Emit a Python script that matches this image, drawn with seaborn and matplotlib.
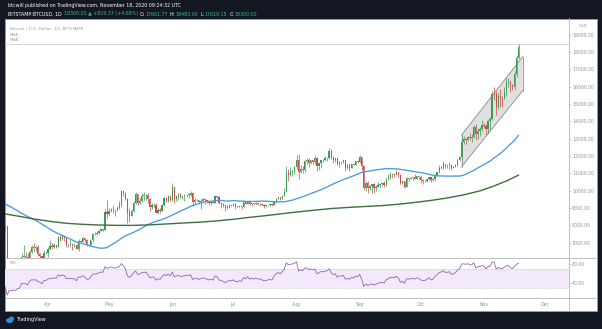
import numpy as np
import pandas as pd
import matplotlib
matplotlib.use("Agg")
import matplotlib.pyplot as plt
import matplotlib.dates as mdates
from matplotlib.patches import Rectangle, Polygon, Ellipse
from matplotlib.lines import Line2D
import seaborn as sns

W, H = 602, 329

# ---------------------------------------------------------------- data
# Daily closes before the first candle (2020-01-20 .. 2020-03-10), for MA50 / RSI warm-up
warmup_closes = [
    8630, 8720, 8650, 8380, 8430, 8330, 8600, 8900, 9390, 9290, 9510, 9350,
    9390, 9340, 9290, 9180, 9620, 9760, 9800, 9900, 10160, 9860, 10270, 10360,
    10240, 10370, 9900, 9930, 9700, 10180, 9600, 9610, 9690, 9670, 9970, 9650,
    9320, 8790, 8790, 8680, 8540,
    8530, 8920, 8760, 8760, 9070, 9150, 8900, 8040, 7930, 7890,
]

# Daily candles 2020-03-11 .. 2020-11-18 (open = previous close)
first_open = 7890
closes = [
    # Mar 11-31
    7940, 4860, 5560, 5170, 5360, 5030, 5330, 5410, 6190, 6200, 6190, 5830, 6480, 6770, 6690, 6760, 6370, 6250, 5880, 6400, 6420,
    # Apr
    6640, 6800, 6740, 6860, 6780, 7330, 7200, 7360, 7290, 6870, 6890, 6920, 6860, 6870, 6630, 7110, 7040, 7260, 7130, 6860, 6860, 7130, 7480, 7510, 7540, 7700, 7780, 7760, 8780, 8630,
    # May
    8830, 8970, 8900, 8880, 9030, 9150, 9990, 9810, 9540, 8730, 8560, 8810, 9310, 9790, 9310, 9380, 9670, 9730, 9780, 9510, 9060, 9170, 9180, 8720, 8900, 8840, 9200, 9570, 9430, 9700, 9450,
    # Jun
    10200, 9520, 9670, 9790, 9620, 9670, 9750, 9780, 9780, 9880, 9320, 9480, 9470, 9340, 9430, 9520, 9460, 9390, 9300, 9360, 9290, 9690, 9630, 9290, 9250, 9160, 9010, 9120, 9190, 9140,
    # Jul
    9230, 9090, 9060, 9130, 9080, 9340, 9250, 9430, 9230, 9290, 9240, 9300, 9240, 9250, 9190, 9130, 9150, 9170, 9210, 9160, 9390, 9540, 9610, 9550, 9710, 9930, 11050, 10920, 11100, 11110, 11350,
    # Aug
    11800, 11070, 11230, 11190, 11740, 11770, 11600, 11760, 11680, 11880, 11410, 11580, 11780, 11770, 11860, 11910, 12280, 11960, 11750, 11870, 11520, 11680, 11650, 11750, 11330, 11460, 11320, 11540, 11480, 11710, 11650,
    # Sep
    11920, 11410, 10170, 10470, 10170, 10280, 10370, 10130, 10230, 10340, 10390, 10440, 10330, 10680, 10790, 10960, 10940, 10930, 11080, 10920, 10420, 10540, 10240, 10740, 10690, 10730, 10770, 10690, 10840, 10780,
    # Oct
    10620, 10570, 10550, 10670, 10790, 10600, 10670, 10920, 11060, 11300, 11380, 11540, 11430, 11430, 11500, 11330, 11370, 11500, 11760, 11920, 12820, 12970, 12930, 13120, 13040, 13070, 13650, 13280, 13460, 13560, 13800,
    # Nov 1-18
    13760, 13560, 14030, 14150, 15590, 15580, 14840, 15480, 15330, 15310, 15700, 16280, 16320, 16070, 15960, 16720, 17662, 18300,
]
highs = [
    7990, 7960, 5970, 5650, 5940, 5360, 5560, 5450, 6420, 6880, 6450, 6400, 6600, 6860, 6970, 6800, 6890, 6380, 6260, 6600, 6520,
    6740, 7180, 7010, 6990, 6880, 7370, 7460, 7400, 7380, 7310, 6950, 7200, 6920, 6990, 6940, 7190, 7150, 7300, 7260, 7200, 6950, 7160, 7560, 7600, 7700, 7720, 7800, 7790, 8960, 9460,
    9000, 9010, 9190, 8950, 9100, 9380, 10040, 9990, 9900, 9580, 9030, 8970, 9400, 9930, 9820, 9590, 9880, 9940, 9830, 9840, 9560, 9270, 9310, 9300, 8980, 9010, 9220, 9620, 9600, 9740, 9700,
    10430, 10230, 9680, 9880, 9850, 9720, 9800, 9800, 9880, 9980, 9950, 9560, 9500, 9490, 9500, 9580, 9550, 9480, 9400, 9400, 9420, 9780, 9690, 9680, 9320, 9280, 9200, 9190, 9230, 9200,
    9300, 9270, 9130, 9190, 9140, 9370, 9350, 9450, 9450, 9310, 9300, 9320, 9340, 9280, 9280, 9210, 9190, 9200, 9230, 9220, 9420, 9550, 9650, 9660, 9730, 10130, 11400, 11230, 11340, 11170, 11450,
    12070, 12090, 11480, 11420, 11790, 11900, 11900, 11800, 11800, 12060, 11950, 11620, 11790, 11850, 11980, 11940, 12470, 12400, 11990, 11900, 11890, 11690, 11700, 11800, 11760, 11530, 11590, 11560, 11580, 11720, 11770,
    12050, 11940, 11460, 10570, 10570, 10350, 10400, 10430, 10350, 10480, 10400, 10470, 10560, 10760, 10940, 11080, 11040, 11040, 11180, 11100, 10990, 10570, 10550, 10790, 10760, 10780, 10790, 10950, 10860, 10850,
    10920, 10660, 10600, 10690, 10800, 10800, 10690, 10960, 11100, 11490, 11440, 11720, 11560, 11550, 11630, 11540, 11400, 11520, 11830, 12030, 13220, 13180, 13030, 13160, 13340, 13250, 13790, 13860, 13640, 13680, 14100,
    13890, 13830, 14070, 14260, 15750, 15970, 15770, 15660, 15850, 15480, 15960, 16480, 16490, 16330, 16150, 16880, 17850, 18483,
]
lows = [
    7590, 4780, 3850, 5080, 5100, 4450, 4960, 5070, 5300, 5680, 5880, 5760, 5720, 6380, 6480, 6530, 6260, 6020, 5860, 5870, 6330,
    6150, 6600, 6620, 6680, 6680, 6770, 7120, 7150, 7110, 6780, 6780, 6820, 6570, 6780, 6620, 6500, 7000, 7030, 7050, 6800, 6790, 6840, 7060, 7440, 7440, 7500, 7660, 7680, 7740, 8430,
    8620, 8770, 8710, 8550, 8810, 8940, 9050, 9720, 9470, 8120, 8200, 8530, 8790, 9260, 9200, 9230, 9330, 9470, 9470, 9300, 8830, 8950, 9080, 8700, 8640, 8700, 8820, 9110, 9340, 9360, 9400,
    9420, 9270, 9400, 9460, 9590, 9540, 9380, 9640, 9580, 9700, 9110, 9250, 9380, 9260, 8920, 9370, 9260, 9300, 9200, 9200, 9280, 9280, 9580, 9230, 9020, 9060, 8830, 8950, 9030, 9090,
    9090, 8950, 9040, 9050, 8970, 9060, 9220, 9240, 9160, 9120, 9190, 9170, 9200, 9130, 9170, 9010, 9080, 9130, 9120, 9130, 9150, 9280, 9500, 9460, 9530, 9690, 9910, 10570, 10850, 10840, 10970,
    11230, 10660, 11000, 11000, 11100, 11560, 11350, 11520, 11560, 11520, 11130, 11170, 11290, 11640, 11690, 11690, 11840, 11810, 11570, 11680, 11500, 11380, 11540, 11590, 11130, 11260, 11140, 11290, 11460, 11470, 11570,
    11620, 11180, 10020, 9960, 9880, 10050, 9880, 9890, 10010, 10200, 10200, 10290, 10230, 10260, 10630, 10680, 10750, 10810, 10900, 10800, 10360, 10370, 10140, 10200, 10560, 10650, 10630, 10650, 10650, 10680,
    10430, 10370, 10500, 10530, 10630, 10530, 10560, 10550, 10840, 11050, 11270, 11230, 11300, 11290, 11270, 11220, 11310, 11360, 11420, 11690, 11900, 12710, 12720, 12890, 12900, 12800, 13060, 12950, 12990, 13140, 13440,
    13620, 13220, 13320, 13530, 14100, 15210, 14350, 14720, 14820, 14840, 15290, 15440, 15960, 15720, 15800, 15870, 16570, 17619,
]

# 200-day moving average, sampled along its curve
ma200_dates = ["2020-03-09", "2020-03-18", "2020-03-25", "2020-04-02", "2020-04-10", "2020-04-18",
               "2020-04-26", "2020-05-05", "2020-05-13", "2020-05-21", "2020-05-29", "2020-06-07",
               "2020-06-15", "2020-06-23", "2020-07-01", "2020-07-08", "2020-07-16", "2020-07-24",
               "2020-08-01", "2020-08-10", "2020-08-18", "2020-08-27", "2020-09-04", "2020-09-12",
               "2020-09-20", "2020-09-28", "2020-10-06", "2020-10-14", "2020-10-22", "2020-10-30",
               "2020-11-05", "2020-11-12", "2020-11-18"]
ma200_values = [8700, 8520, 8370, 8230, 8120, 8060,
                8020, 8000, 8000, 8030, 8080, 8140,
                8190, 8260, 8350, 8450, 8550, 8660,
                8770, 8880, 8970, 9040, 9090, 9140,
                9220, 9320, 9440, 9580, 9760, 9990,
                10230, 10560, 10900]

# Rising channel drawn over the Oct-Nov rally
channel_dates = ["2020-10-21", "2020-11-20"]
channel_upper = [13210, 17730]
channel_lower = [11380, 15770]
session_high = 18483

price_ticks = [7000, 8000, 9000, 10000, 11000, 12000, 13000, 14000, 15000, 16000, 17000, 18000, 19000]
rsi_ticks = [40, 80]
month_ticks = ["2020-04-01", "2020-05-01", "2020-06-01", "2020-07-01", "2020-08-01",
               "2020-09-01", "2020-10-01", "2020-11-01", "2020-12-01"]
month_labels = ["Apr", "May", "Jun", "Jul", "Aug", "Sep", "Oct", "Nov", "Dec"]

assert len(closes) == len(highs) == len(lows) == 253

# ---------------------------------------------------------------- frames
dates = pd.date_range("2020-03-11", periods=len(closes), freq="D")
opens = [first_open] + closes[:-1]
candles = pd.DataFrame({"date": dates, "open": opens, "high": highs, "low": lows, "close": closes})

all_close = pd.Series(warmup_closes + closes,
                      index=pd.date_range("2020-01-20", periods=len(warmup_closes) + len(closes), freq="D"))
ma50 = all_close.rolling(50).mean()
delta = all_close.diff()
gain = delta.clip(lower=0).ewm(alpha=1 / 14, adjust=False).mean()
loss = (-delta.clip(upper=0)).ewm(alpha=1 / 14, adjust=False).mean()
rsi = 100 - 100 / (1 + gain / loss)

ind = pd.DataFrame({"date": dates, "ma50": ma50.loc[dates].values, "rsi": rsi.loc[dates].values})
ma200 = pd.DataFrame({"date": pd.to_datetime(ma200_dates), "ma200": ma200_values})

# ---------------------------------------------------------------- figure
sns.set_style("white")
plt.rcParams["font.family"] = ["DejaVu Sans"]

DARK = "#131722"
GRID = "#b3b6bd"
LABEL = "#8f939c"
UP, DOWN = "#3c9a55", "#d4474b"

fig = plt.figure(figsize=(W / 100, H / 100), dpi=100)
fig.patch.set_facecolor(DARK)


def px_axes(x0, y0, x1, y1, **kw):
    return fig.add_axes([x0 / W, 1 - y1 / H, (x1 - x0) / W, (y1 - y0) / H], **kw)


# white chart area
fig.add_artist(Rectangle((5 / W, 1 - 311 / H), 592 / W, 292.5 / H, transform=fig.transFigure,
                         facecolor="white", edgecolor="#9a9da5", linewidth=0.6, zorder=0))

ax = px_axes(5, 18.5, 568.5, 257.5)
ax_rsi = px_axes(5, 257.5, 568.5, 298.3, sharex=ax)
for a in (ax, ax_rsi):
    a.set_facecolor("none")

apr1 = mdates.date2num(pd.Timestamp("2020-04-01"))
xlim = (apr1 - 21.1, apr1 + 255.5)

# ---------------------------------------------------------------- price pane
xs = mdates.date2num(candles["date"])
is_up = (candles["close"] >= candles["open"]).values
colors = np.where(is_up, UP, DOWN)
body_lo = np.minimum(candles["open"], candles["close"])
body_h = np.maximum(np.abs(candles["close"] - candles["open"]), 18)
ax.vlines(xs, candles["low"], candles["high"], colors=colors, linewidth=0.5, zorder=3)
ax.bar(xs, body_h, bottom=body_lo, width=0.62, color=colors, linewidth=0, zorder=4)

# channel
cx = mdates.date2num(pd.to_datetime(channel_dates))
chan = Polygon([(cx[0], channel_upper[0]), (cx[1], channel_upper[1]),
                (cx[1], channel_lower[1]), (cx[0], channel_lower[0])],
               closed=True, facecolor="#d6d6d6", edgecolor="none", alpha=0.75, zorder=1)
ax.add_patch(chan)
ax.plot(cx, channel_upper, color="#8a8a8a", linewidth=0.6, zorder=2)
ax.plot(cx, channel_lower, color="#8a8a8a", linewidth=0.6, zorder=2)
ax.plot([cx[0], cx[0]], [channel_lower[0], channel_upper[0]], color="#8a8a8a", linewidth=0.6, zorder=2)
ax.plot([cx[1], cx[1]], [channel_lower[1], channel_upper[1]], color="#8a8a8a", linewidth=0.6, zorder=2)

ax.axhline(session_high, color="#cfd0d3", linewidth=0.6, zorder=1)

sns.lineplot(data=ind, x="date", y="ma50", ax=ax, color="#4a9ae0", linewidth=0.95, zorder=5)
sns.lineplot(data=ma200, x="date", y="ma200", ax=ax, color="#3f6f3f", linewidth=1.0, zorder=5)

ax.set_xlim(*xlim)
ax.set_ylim(6146, 19935)
ax.set_xlabel("")
ax.set_ylabel("")
ax.yaxis.tick_right()
ax.set_yticks(price_ticks)
ax.set_yticklabels([f"{v:.2f}" for v in price_ticks])
ax.tick_params(axis="y", labelsize=3.3, labelcolor=LABEL, length=1.3, width=0.5, color=GRID, pad=1.2)
ax.tick_params(axis="x", bottom=False, labelbottom=False)
for s in ("top", "left"):
    ax.spines[s].set_visible(False)
for s in ("right", "bottom"):
    ax.spines[s].set_color(GRID)
    ax.spines[s].set_linewidth(0.6)

ax.text(0.009, 0.958, "Bitcoin / U.S. Dollar, 1D, BITSTAMP", transform=ax.transAxes,
        fontsize=3.1, color="#9a9a9a", va="center", ha="left")
ax.text(0.009, 0.933, "SMA", transform=ax.transAxes, fontsize=3.0, color="#9a9a9a", va="center", ha="left")
ax.text(0.009, 0.908, "SMA", transform=ax.transAxes, fontsize=3.0, color="#9a9a9a", va="center", ha="left")

# ---------------------------------------------------------------- RSI pane
ax_rsi.axhspan(30, 70, color="#f2e9fb", zorder=0, linewidth=0)
for lvl in (30, 70):
    ax_rsi.axhline(lvl, color="#c7bfd3", linewidth=0.4, linestyle=(0, (3, 2)), zorder=1)
sns.lineplot(data=ind, x="date", y="rsi", ax=ax_rsi, color="#9166b5", linewidth=0.6, zorder=3)
ax_rsi.set_xlim(*xlim)
ax_rsi.set_ylim(8.4, 94.3)
ax_rsi.set_xlabel("")
ax_rsi.set_ylabel("")
ax_rsi.yaxis.tick_right()
ax_rsi.set_yticks(rsi_ticks)
ax_rsi.set_yticklabels([f"{v:.2f}" for v in rsi_ticks])
ax_rsi.tick_params(axis="y", labelsize=3.3, labelcolor=LABEL, length=1.3, width=0.5, color=GRID, pad=1.2)
ax_rsi.set_xticks(mdates.date2num(pd.to_datetime(month_ticks)))
ax_rsi.set_xticklabels(month_labels)
ax_rsi.tick_params(axis="x", labelsize=3.3, labelcolor=LABEL, length=1.3, width=0.5, color=GRID, pad=1.5)
for s in ("top", "left"):
    ax_rsi.spines[s].set_visible(False)
for s in ("right", "bottom"):
    ax_rsi.spines[s].set_color(GRID)
    ax_rsi.spines[s].set_linewidth(0.6)
ax_rsi.text(0.009, 0.87, "RSI", transform=ax_rsi.transAxes, fontsize=3.0, color="#9a9a9a",
            va="center", ha="left")

# separators running through the price-scale column
for yp in (257.5, 298.3):
    fig.add_artist(Line2D([568.5 / W, 597 / W], [1 - yp / H, 1 - yp / H], transform=fig.transFigure,
                          color=GRID, linewidth=0.6))
fig.add_artist(Line2D([568.5 / W, 568.5 / W], [1 - 298.3 / H, 1 - 311 / H], transform=fig.transFigure,
                      color=GRID, linewidth=0.6))
fig.text(583 / W, 1 - 26 / H, "USD", fontsize=3.0, color=LABEL, ha="center", va="center")

# ---------------------------------------------------------------- header / footer
fig.text(8 / W, 1 - 5.7 / H, "btcwill published on TradingView.com, November 18, 2020 09:24:32 UTC",
         fontsize=3.4, color="white", ha="left", va="center")

renderer = fig.canvas.get_renderer()
TEAL = "#3fb58e"
parts = [("BITSTAMP:BTCUSD, 1D", "white", 2.0), ("18300.00 \u25b2 +819.37 (+4.69%)", TEAL, 2.0),
         ("O:", "white", 0.4), ("17661.77", TEAL, 2.0), ("H:", "white", 0.4), ("18483.00", TEAL, 2.0),
         ("L:", "white", 0.4), ("17619.15", TEAL, 2.0), ("C:", "white", 0.4), ("18300.00", TEAL, 0)]
xp = 8.0
for s, c, gap in parts:
    t = fig.text(xp / W, 1 - 14 / H, s, fontsize=3.4, color=c, ha="left", va="center")
    xp += t.get_window_extent(renderer=renderer).width + gap

# TradingView mark in the footer
fig.add_artist(Ellipse((9.5 / W, 1 - 320.5 / H), 7 / W, 5 / H, transform=fig.transFigure,
                       facecolor="#2f8fe0", edgecolor="none"))
fig.add_artist(Ellipse((11.5 / W, 1 - 319 / H), 5 / W, 5 / H, transform=fig.transFigure,
                       facecolor="#2f8fe0", edgecolor="none"))
fig.text(16 / W, 1 - 320 / H, "TradingView", fontsize=3.5, color="white", ha="left", va="center")

fig.savefig("out.png", dpi=100, facecolor=fig.get_facecolor())
